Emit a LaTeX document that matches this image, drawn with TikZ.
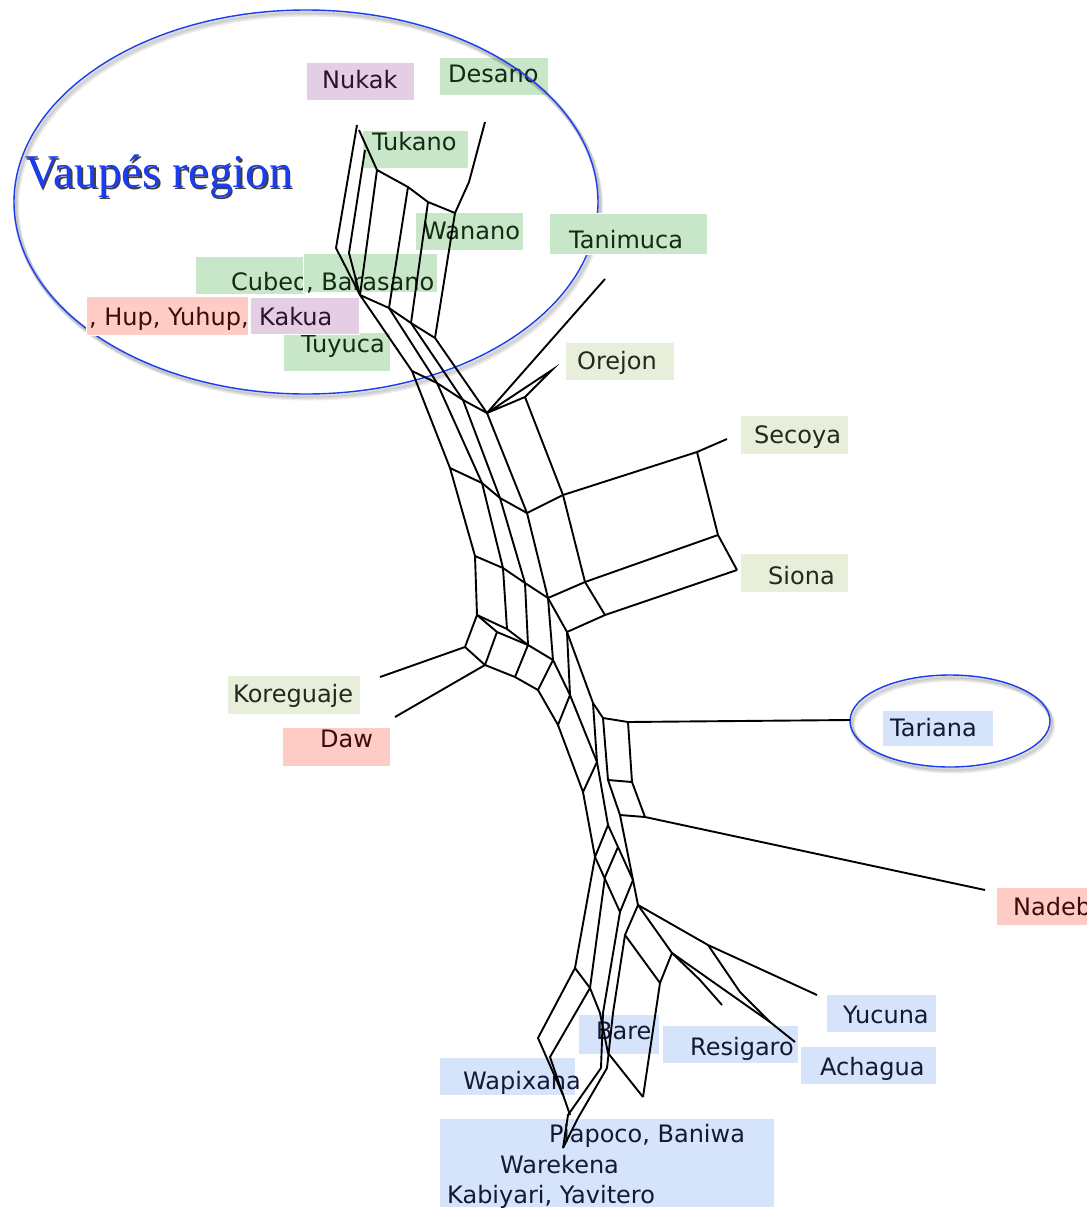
\documentclass[tikz,border=0pt]{standalone}
\usepackage{fontspec}
\setmainfont{DejaVu Sans}
\newfontfamily\vauserif{Liberation Serif}
\definecolor{gDark}{HTML}{C8E6C8}
\definecolor{gLight}{HTML}{E7EFDA}
\definecolor{lav}{HTML}{E3CEE3}
\definecolor{pnk}{HTML}{FFCBC5}
\definecolor{blu}{HTML}{D5E3FB}
\definecolor{ellblue}{HTML}{1A3DF2}
\definecolor{tGreen}{HTML}{142A14}
\definecolor{tLight}{HTML}{222A18}
\definecolor{tLav}{HTML}{2A1230}
\definecolor{tPink}{HTML}{3A0C0C}
\definecolor{tBlue}{HTML}{121A33}
\tikzset{
  lbl/.style={anchor=base west, inner sep=0pt, font=\fontsize{24}{28}\selectfont},
  boxg/.style={fill=gDark, draw=white, line width=1pt},
  boxl/.style={fill=gLight, draw=white, line width=1pt},
  boxv/.style={fill=lav, draw=white, line width=1pt},
  boxp/.style={fill=pnk, draw=white, line width=1pt},
  boxb/.style={fill=blu, draw=white, line width=1pt},
  net/.style={line width=1.9pt, black},
  ring/.style={draw=ellblue, line width=1.4pt},
  ringshadow/.style={draw=black, opacity=0.08, line width=4pt}
}
\begin{document}
\begin{tikzpicture}[x=1pt,y=-1pt]
\useasboundingbox (0,0) rectangle (1087,1208);
\fill[white] (0,0) rectangle (1087,1208);

% ---------- Desano box (under ellipse)
\fill[boxg] (439,57) rectangle (548,95);
\node[lbl, text=tGreen] (tdes) at (448,82) {Desano};

% ---------- ellipses with soft shadow
\foreach \o in {1,2,3}{
  \draw[ringshadow] (306+\o,202+1.5*\o) ellipse [x radius=292, y radius=192];
  \draw[ringshadow] (950+\o,721+1.5*\o) ellipse [x radius=100, y radius=46];
}
\draw[ring] (306,202) ellipse [x radius=292, y radius=192];
\draw[ring] (950,721) ellipse [x radius=100, y radius=46];

% ---------- Vaupes label
\node[anchor=base west, inner sep=0pt, font=\vauserif\fontsize{47}{50}\selectfont, text=black!75] (vaus) at (26.5,189) {Vaupés region};
\node[anchor=base west, inner sep=0pt, font=\vauserif\fontsize{47}{50}\selectfont, text=ellblue] (vau) at (25,187.5) {Vaupés region};

% ---------- label boxes
\fill[boxv] (306,62) rectangle (414,100);
\node[lbl, text=tLav] (tnuk) at (322,88) {Nukak};
\fill[boxg] (362,130) rectangle (468,168);
\node[lbl, text=tGreen] (ttuk) at (372,150) {Tukano};
\fill[boxg] (415,212) rectangle (523,250);
\node[lbl, text=tGreen] (twan) at (423,239) {Wanano};
\fill[boxg] (549,213) rectangle (707,254);
\node[lbl, text=tGreen] (ttan) at (569,248) {Tanimuca};
\fill[boxg] (195,256) rectangle (305,294);
\node[lbl, text=tGreen] (tcub) at (231,290) {Cubeo};
\fill[boxg] (303,253) rectangle (437,292);
\node[lbl, text=tGreen] (tbar) at (306,290) {, Barasano};
\fill[boxg] (283,332) rectangle (390,371);
\node[lbl, text=tGreen] (ttuy) at (301,352) {Tuyuca};
\fill[boxp] (86,296) rectangle (248,335);
\node[lbl, text=tPink] (thup) at (89,325) {, Hup, Yuhup,};
\fill[boxv] (250,297) rectangle (359,334);
\node[lbl, text=tLav] (tkak) at (259,325) {Kakua};
\fill[boxl] (565,342) rectangle (674,380);
\node[lbl, text=tLight] (tore) at (577,369) {Orejon};
\fill[boxl] (740,415) rectangle (848,454);
\node[lbl, text=tLight] (tsec) at (754,443) {Secoya};
\fill[boxl] (740,553) rectangle (848,592);
\node[lbl, text=tLight] (tsio) at (768,584) {Siona};
\fill[boxl] (227,675) rectangle (360,714);
\node[lbl, text=tLight] (tkor) at (233,702) {Koreguaje};
\fill[boxp] (282,727) rectangle (390,766);
\node[lbl, text=tPink] (tdaw) at (320,747) {Daw};
\fill[boxb] (882,710) rectangle (993,746);
\node[lbl, text=tBlue] (ttar) at (890,736) {Tariana};
\fill[boxp] (996,887) rectangle (1090,925);
\node[lbl, text=tPink] (tnad) at (1013,915) {Nadeb};
\fill[boxb] (826,994) rectangle (936,1032);
\node[lbl, text=tBlue] (tyuc) at (843,1023) {Yucuna};
\fill[boxb] (800,1046) rectangle (936,1084);
\node[lbl, text=tBlue] (tach) at (820,1075) {Achagua};
\fill[boxb] (662,1025) rectangle (798,1063);
\node[lbl, text=tBlue] (tres) at (690,1055) {Resigaro};
\fill[boxb] (578,1014) rectangle (659,1054);
\node[lbl, text=tBlue] (tbare) at (596,1039) {Bare};
\fill[boxb] (439,1057) rectangle (575,1095);
\node[lbl, text=tBlue] (twap) at (463,1089) {Wapixana};
\fill[boxb] (439,1118) rectangle (774,1207);
\node[lbl, text=tBlue] (tpia) at (549,1142) {Piapoco, Baniwa};
\node[lbl, text=tBlue] (tware) at (500,1173) {Warekena};
\node[lbl, text=tBlue] (tkab) at (447,1203) {Kabiyari, Yavitero};

% ---------- network coordinates
\coordinate (nuk) at (357,125); \coordinate (a1) at (336,248);
\coordinate (tuk) at (359,130); \coordinate (tb) at (365,150); \coordinate (b1) at (349,253);
\coordinate (t1) at (377,170); \coordinate (t2) at (408,187); \coordinate (t3) at (428,202); \coordinate (t4) at (455,213);
\coordinate (des) at (485,122); \coordinate (d1) at (469,182);
\coordinate (r1) at (360,295); \coordinate (r2) at (389,308); \coordinate (r3) at (411,323); \coordinate (r4) at (435,338);
\coordinate (s1) at (412,371); \coordinate (s2) at (437,383); \coordinate (s3) at (463,400); \coordinate (s4) at (487,413);
\coordinate (tan) at (605,279); \coordinate (ore) at (552,370); \coordinate (o1) at (525,397);
\coordinate (m1) at (450,468); \coordinate (m2) at (482,483); \coordinate (m3) at (500,498); \coordinate (m4) at (527,513); \coordinate (m5) at (563,495);
\coordinate (sec) at (727,439); \coordinate (q1) at (697,452); \coordinate (q2) at (718,535); \coordinate (sio) at (737,570);
\coordinate (n1) at (475,556); \coordinate (n2) at (503,568); \coordinate (n3) at (525,583); \coordinate (n4) at (548,598);
\coordinate (n5) at (585,582); \coordinate (n6) at (605,615); \coordinate (n7) at (567,632);
\coordinate (u0) at (477,615); \coordinate (u1) at (507,629); \coordinate (u2) at (528,645); \coordinate (u3) at (553,660); \coordinate (v1) at (497,632);
\coordinate (kor) at (380,677); \coordinate (k) at (465,647); \coordinate (d) at (485,665); \coordinate (daw) at (395,717);
\coordinate (w1) at (515,677); \coordinate (w2) at (538,690);
\coordinate (x1) at (570,695); \coordinate (x2) at (558,725); \coordinate (x3) at (597,762); \coordinate (x4) at (583,792);
\coordinate (y1) at (593,703); \coordinate (y2) at (603,718); \coordinate (y3) at (628,722); \coordinate (tar) at (850,720);
\coordinate (z1) at (608,780); \coordinate (z2) at (632,782); \coordinate (z3) at (620,815); \coordinate (z4) at (645,817); \coordinate (nad) at (985,890);
\coordinate (l1) at (608,825); \coordinate (l2) at (595,857); \coordinate (l3) at (618,847); \coordinate (l4) at (605,877);
\coordinate (l5) at (633,880); \coordinate (l6) at (620,912); \coordinate (l7) at (638,905); \coordinate (l8) at (625,935);
\coordinate (l9) at (672,953); \coordinate (l10) at (660,983); \coordinate (l11) at (708,945); \coordinate (yuc) at (817,995);
\coordinate (l12) at (740,992); \coordinate (l13) at (770,1022); \coordinate (ach) at (795,1042);
\coordinate (l14) at (700,980); \coordinate (res) at (722,1005);
\coordinate (l15) at (575,968); \coordinate (l16) at (590,988); \coordinate (l17) at (600,1013); \coordinate (l18) at (608,1053);
\coordinate (bar) at (643,1097); \coordinate (l19) at (538,1038); \coordinate (wap) at (563,1095);
\coordinate (l20) at (550,1057); \coordinate (l21) at (570,1115);
\coordinate (l22) at (603,1013); \coordinate (l23) at (613,1013);
\coordinate (l24) at (601,1068); \coordinate (l25) at (607,1068);
\coordinate (l26) at (568,1115); \coordinate (l27) at (578,1118); \coordinate (pia) at (563,1148);

% ---------- network edges
\draw[net] (nuk) -- (a1) -- (r1);
\draw[net] (tuk) -- (t1);
\draw[net] (tb) -- (b1) -- (r1);
\draw[net] (t1) -- (r1);
\draw[net] (t1) -- (t2) -- (t3) -- (t4);
\draw[net] (t2) -- (r2);
\draw[net] (t3) -- (r3);
\draw[net] (des) -- (d1) -- (t4) -- (r4);
\draw[net] (r1) -- (r2) -- (r3) -- (r4);
\draw[net] (r1) -- (s1); \draw[net] (r2) -- (s2); \draw[net] (r3) -- (s3); \draw[net] (r4) -- (s4);
\draw[net] (s1) -- (s2) -- (s3) -- (s4);
\draw[net] (s4) -- (tan);
\draw[net] (s4) -- (ore) -- (o1) -- (s4);
\draw[net] (s1) -- (m1) -- (n1) -- (u0);
\draw[net] (s2) -- (m2) -- (n2) -- (u1);
\draw[net] (s3) -- (m3) -- (n3) -- (u2);
\draw[net] (s4) -- (m4) -- (n4) -- (u3);
\draw[net] (m1) -- (m2) -- (m3) -- (m4) -- (m5);
\draw[net] (o1) -- (m5) -- (n5) -- (n6);
\draw[net] (m5) -- (q1) -- (sec);
\draw[net] (q1) -- (q2) -- (sio);
\draw[net] (q2) -- (n5);
\draw[net] (sio) -- (n6);
\draw[net] (n1) -- (n2) -- (n3) -- (n4) -- (n5);
\draw[net] (n4) -- (n7) -- (n6);
\draw[net] (u0) -- (u1) -- (u2) -- (u3);
\draw[net] (u0) -- (v1) -- (u2);
\draw[net] (kor) -- (k) -- (u0);
\draw[net] (k) -- (d) -- (daw);
\draw[net] (d) -- (v1);
\draw[net] (d) -- (w1) -- (w2);
\draw[net] (w1) -- (u2);
\draw[net] (w2) -- (u3);
\draw[net] (n7) -- (x1);
\draw[net] (u3) -- (x1);
\draw[net] (w2) -- (x2) -- (x1);
\draw[net] (x2) -- (x4) -- (x3) -- (x1);
\draw[net] (n7) -- (y1) -- (y2) -- (y3) -- (tar);
\draw[net] (y1) -- (x3) -- (l1);
\draw[net] (y2) -- (z1) -- (z2) -- (y3);
\draw[net] (z1) -- (z3) -- (z4) -- (nad);
\draw[net] (z2) -- (z4);
\draw[net] (z3) -- (l5);
\draw[net] (x4) -- (l2) -- (l1) -- (l3) -- (l5);
\draw[net] (l2) -- (l6);
\draw[net] (l3) -- (l4) -- (l16);
\draw[net] (l5) -- (l6) -- (l22);
\draw[net] (l5) -- (l7) -- (l8) -- (l23);
\draw[net] (l8) -- (l10);
\draw[net] (l7) -- (l9) -- (l10) -- (bar);
\draw[net] (l7) -- (l11) -- (yuc);
\draw[net] (l11) -- (l12) -- (l13) -- (ach);
\draw[net] (l9) -- (l14) -- (res);
\draw[net] (l9) -- (l13);
\draw[net] (l2) -- (l15) -- (l16) -- (l17) -- (l18) -- (bar);
\draw[net] (l15) -- (l19) -- (wap);
\draw[net] (l16) -- (l20) -- (l21);
\draw[net] (l22) -- (l24) -- (l26) -- (pia);
\draw[net] (l23) -- (l25) -- (l27) -- (pia);
\end{tikzpicture}
\end{document}
